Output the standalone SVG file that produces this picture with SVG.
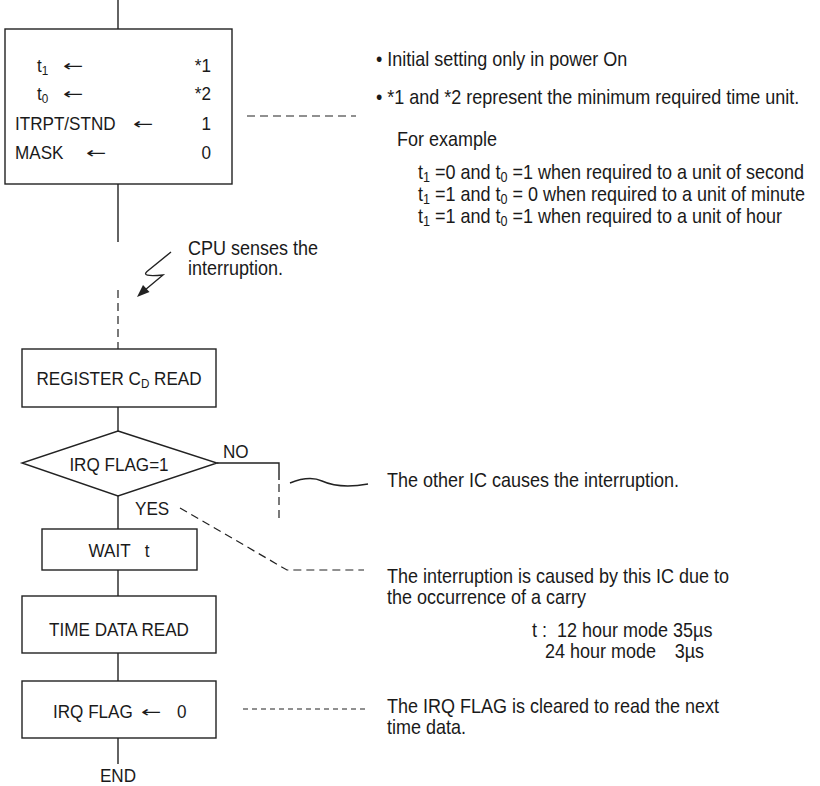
<svg xmlns="http://www.w3.org/2000/svg" width="820" height="786" viewBox="0 0 820 786">
  <style>
    text { font-family: "Liberation Sans", Arial, sans-serif; fill: #1a1a1a; }
    .box { font-size: 19px; }
    .note { font-size: 20px; }
    .arr { font-family: "DejaVu Sans", sans-serif; font-size: 18px; }
    .mid { text-anchor: middle; }
    .end { text-anchor: end; }
    .shape { fill: #fff; stroke: #222; stroke-width: 1.4; }
    .line { fill: none; stroke: #222; stroke-width: 1.4; }
    .dash { fill: none; stroke: #222; stroke-width: 1.2; stroke-dasharray: 8 5; }
    .dashfine { fill: none; stroke: #222; stroke-width: 1.1; stroke-dasharray: 5 4; }
  </style>
  <rect width="820" height="786" fill="#fff"/>

  <!-- connectors -->
  <g id="connectors">
    <line class="line" x1="118" y1="0" x2="118" y2="29"/>
    <line class="line" x1="118" y1="184" x2="118" y2="242"/>
    <line class="dash" x1="118" y1="290" x2="118" y2="349"/>
    <line class="line" x1="118" y1="407" x2="118" y2="431"/>
    <line class="line" x1="118" y1="496" x2="118" y2="529"/>
    <line class="line" x1="118" y1="570" x2="118" y2="596"/>
    <line class="line" x1="118" y1="653" x2="118" y2="681"/>
    <line class="line" x1="118" y1="738" x2="118" y2="764"/>
    <!-- NO branch -->
    <polyline class="line" points="217,463 279,463 279,480"/>
    <line class="dash" x1="279" y1="484" x2="279" y2="521"/>
    <!-- interrupt signal -->
    <path class="line" d="M171,252 L147,271.5 C143,275 147,276.5 163,275 L145,290"/>
    <polygon points="137,297 149.5,292 143,285" fill="#222"/>
    <!-- annotation leaders -->
    <line class="dash" x1="247" y1="116" x2="356" y2="116"/>
    <path class="line" d="M290,483 C300,479 311,476 322,481 C333,486 346,488 368,484"/>
    <polyline class="dash" points="180,508 287,570 364,570"/>
    <line class="dashfine" x1="243" y1="709" x2="367" y2="709"/>
  </g>

  <!-- initial setting -->
  <g id="init">
    <rect class="shape" x="5" y="29" width="227" height="155"/>
    <text class="box" transform="translate(37,72) scale(0.9,1)">t<tspan font-size="13" dy="3">1</tspan></text>
    <text class="arr" transform="translate(63,71) scale(1.35,0.85)">←</text>
    <text class="box end" transform="translate(211,72) scale(0.9,1)">*1</text>
    <text class="box" transform="translate(37,100) scale(0.9,1)">t<tspan font-size="13" dy="3">0</tspan></text>
    <text class="arr" transform="translate(63,99) scale(1.35,0.85)">←</text>
    <text class="box end" transform="translate(211,100) scale(0.9,1)">*2</text>
    <text class="box" transform="translate(15,130) scale(0.9,1)">ITRPT/STND</text>
    <text class="arr" transform="translate(133,129) scale(1.35,0.85)">←</text>
    <text class="box end" transform="translate(211,130) scale(0.9,1)">1</text>
    <text class="box" transform="translate(15,159) scale(0.9,1)">MASK</text>
    <text class="arr" transform="translate(86,158) scale(1.35,0.85)">←</text>
    <text class="box end" transform="translate(211,159) scale(0.9,1)">0</text>
  </g>

  <g id="register">
    <rect class="shape" x="22" y="349" width="194" height="58"/>
    <text class="box mid" transform="translate(119,385) scale(0.9,1)">REGISTER C<tspan font-size="13" dy="3">D</tspan><tspan dy="-3"> READ</tspan></text>
  </g>

  <g id="irq-check">
    <polygon class="shape" points="118,431 217,463 118,496 22,463"/>
    <text class="box mid" transform="translate(119,471) scale(0.9,1)">IRQ FLAG=1</text>
    <text class="box" transform="translate(223,458) scale(0.9,1)">NO</text>
    <text class="box" transform="translate(135,515) scale(0.9,1)">YES</text>
  </g>

  <g id="wait">
    <rect class="shape" x="42" y="529" width="155" height="41"/>
    <text class="box mid" transform="translate(119,557) scale(0.9,1)" xml:space="preserve">WAIT   t</text>
  </g>

  <g id="time-read">
    <rect class="shape" x="22" y="596" width="194" height="57"/>
    <text class="box mid" transform="translate(119,636) scale(0.9,1)">TIME DATA READ</text>
  </g>

  <g id="irq-clear">
    <rect class="shape" x="22" y="681" width="194" height="57"/>
    <text class="box" transform="translate(53,718) scale(0.9,1)">IRQ FLAG</text>
    <text class="arr" transform="translate(141,717) scale(1.35,0.85)">←</text>
    <text class="box" transform="translate(177,718) scale(0.9,1)">0</text>
  </g>

  <g id="end">
    <text class="box mid" transform="translate(118,782) scale(0.9,1)">END</text>
  </g>

  <!-- notes -->
  <g id="notes">
    <text class="note" transform="translate(376,66) scale(0.9,1)">• Initial setting only in power On</text>
    <text class="note" transform="translate(376,104) scale(0.9,1)">• *1 and *2 represent the minimum required time unit.</text>
    <text class="note" transform="translate(397,146) scale(0.9,1)">For example</text>
    <text class="note" transform="translate(418,179) scale(0.9,1)">t<tspan font-size="14" dy="3">1</tspan><tspan dy="-3"> =0 and t</tspan><tspan font-size="14" dy="3">0</tspan><tspan dy="-3"> =1 when required to a unit of second</tspan></text>
    <text class="note" transform="translate(418,201) scale(0.9,1)">t<tspan font-size="14" dy="3">1</tspan><tspan dy="-3"> =1 and t</tspan><tspan font-size="14" dy="3">0</tspan><tspan dy="-3"> = 0 when required to a unit of minute</tspan></text>
    <text class="note" transform="translate(418,223) scale(0.9,1)">t<tspan font-size="14" dy="3">1</tspan><tspan dy="-3"> =1 and t</tspan><tspan font-size="14" dy="3">0</tspan><tspan dy="-3"> =1 when required to a unit of hour</tspan></text>
    <text class="note" transform="translate(188,255) scale(0.9,1)">CPU senses the</text>
    <text class="note" transform="translate(188,275) scale(0.9,1)">interruption.</text>
    <text class="note" transform="translate(387,487) scale(0.9,1)">The other IC causes the interruption.</text>
    <text class="note" transform="translate(387,583) scale(0.9,1)">The interruption is caused by this IC due to</text>
    <text class="note" transform="translate(387,604) scale(0.9,1)">the occurrence of a carry</text>
    <text class="note" transform="translate(532,637) scale(0.9,1)" xml:space="preserve">t :  12 hour mode 35µs</text>
    <text class="note" transform="translate(545,658) scale(0.9,1)">24 hour mode</text>
    <text class="note end" transform="translate(704,658) scale(0.9,1)">3µs</text>
    <text class="note" transform="translate(387,713) scale(0.9,1)">The IRQ FLAG is cleared to read the next</text>
    <text class="note" transform="translate(387,734) scale(0.9,1)">time data.</text>
  </g>
</svg>
